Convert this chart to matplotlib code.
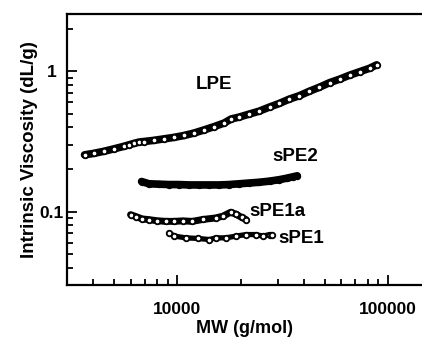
import matplotlib
matplotlib.use("Agg")
import matplotlib.pyplot as plt
from matplotlib.ticker import FuncFormatter, NullFormatter

plt.rcParams['font.family'] = ['Liberation Sans', 'DejaVu Sans']
plt.rcParams['font.weight'] = 'bold'

# datos
lpe_mw = [3630, 4010, 4480, 5000, 5580, 5890, 6220, 6580, 6950, 7750, 8650, 9640, 10800,
          12000, 13400, 15000, 16700, 18000, 19700, 22000, 24500, 27400, 30500,
          34000, 38000, 42400, 47300, 52800, 58900, 65700, 73300, 81800, 88300]
lpe_iv = [0.254, 0.260, 0.269, 0.280, 0.292, 0.299, 0.306, 0.313, 0.316, 0.322, 0.330, 0.338, 0.349,
          0.363, 0.382, 0.404, 0.428, 0.457, 0.472, 0.496, 0.520, 0.556, 0.590,
          0.633, 0.670, 0.721, 0.770, 0.829, 0.878, 0.937, 0.992, 1.05, 1.11]

spe2_mw = [6770, 7330, 8180, 9100, 10200, 11400, 12700, 14200, 15800, 17600,
           19700, 22000, 24500, 27400, 30500, 33000, 35300, 37100]
spe2_iv = [0.164, 0.158, 0.157, 0.156, 0.156, 0.155, 0.155, 0.155, 0.155, 0.156,
           0.158, 0.160, 0.162, 0.165, 0.169, 0.173, 0.177, 0.180]

spe1a_mw = [6000, 6400, 6810, 7330, 8000, 8810, 9700, 10600, 11800, 13200,
            15200, 16500, 17900, 19000, 20200, 21200]
spe1a_iv = [0.0952, 0.0920, 0.0888, 0.0878, 0.0862, 0.0853, 0.0853, 0.0860, 0.0853, 0.0880,
            0.0902, 0.0930, 0.0990, 0.0960, 0.0910, 0.0878]

spe1_mw = [9130, 9700, 10960, 12500, 14200, 15200, 17000, 19000, 21200, 23600,
           25500, 27400, 28300]
spe1_iv = [0.0706, 0.0670, 0.0651, 0.0645, 0.0633, 0.0651, 0.0651, 0.0670, 0.0687, 0.0687,
           0.0670, 0.0687, 0.0680]

etiquetas = ["LPE", "sPE2", "sPE1a", "sPE1"]
pos_etiq = [(15000, 0.81), (36300, 0.248), (29900, 0.101), (38700, 0.0645)]

fig = plt.figure(figsize=(4.22, 3.37), dpi=100)
ax = fig.add_axes([0.159, 0.154, 0.841, 0.804])

# (x, y, ancho de linea, relleno del marcador)
series = [(lpe_mw, lpe_iv, 5.5, "white"),
          (spe2_mw, spe2_iv, 5.5, "black"),
          (spe1a_mw, spe1a_iv, 5.0, "white"),
          (spe1_mw, spe1_iv, 3.8, "white")]
for mw, iv, lw, fc in series:
    ax.plot(mw, iv, color="black", lw=lw, solid_capstyle="round",
            solid_joinstyle="round", zorder=2)
    ax.plot(mw, iv, ls="none", marker="o", ms=4.0, mfc=fc, mec="black",
            mew=1.3, zorder=3)

for txt, (x, y) in zip(etiquetas, pos_etiq):
    ax.text(x, y, txt, fontsize=13.5, fontweight="bold", ha="center", va="center")

ax.set_xscale("log")
ax.set_yscale("log")
ax.set_xlim(3000, 145000)
ax.set_ylim(0.03, 2.55)

ax.xaxis.set_major_formatter(FuncFormatter(lambda v, p: "%d" % v))
ax.yaxis.set_major_formatter(FuncFormatter(lambda v, p: "{:g}".format(v)))
ax.xaxis.set_minor_formatter(NullFormatter())
ax.yaxis.set_minor_formatter(NullFormatter())

ax.spines["right"].set_visible(False)
for s in ["left", "bottom", "top"]:
    ax.spines[s].set_linewidth(1.6)
ax.tick_params(which="both", direction="in", top=False, right=False,
               width=1.3, labelsize=12.5)
ax.tick_params(which="major", length=7)
ax.tick_params(which="minor", length=4)
ax.tick_params(axis="x", which="major", pad=12)
ax.tick_params(axis="y", which="major", pad=11)
for lab in ax.get_yticklabels():
    lab.set_horizontalalignment("center")

ax.set_xlabel("MW (g/mol)", fontsize=13, fontweight="bold", labelpad=2)
ax.set_ylabel("Intrinsic Viscosity (dL/g)", fontsize=13.5, fontweight="bold", labelpad=1)

plt.savefig("out.png", dpi=100)
